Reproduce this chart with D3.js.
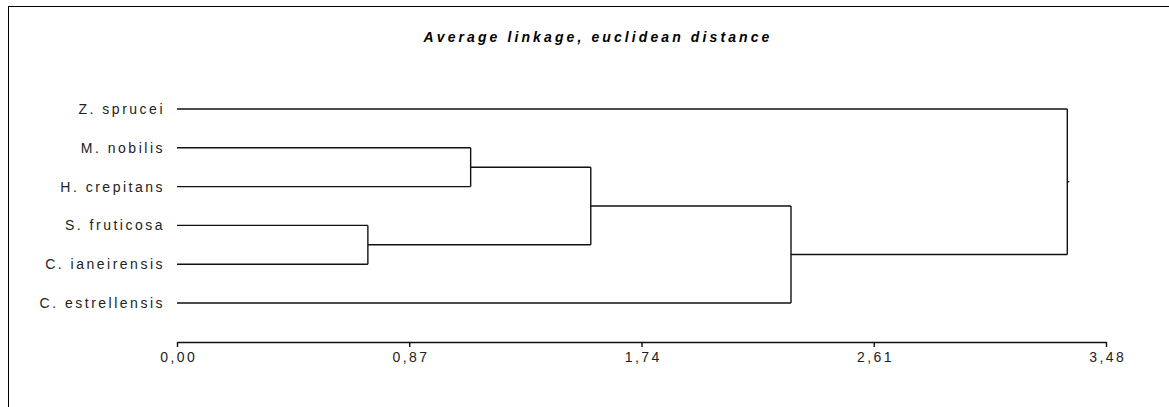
<!DOCTYPE html>
<html>
<head>
<meta charset="utf-8">
<script src="https://cdn.jsdelivr.net/npm/d3@7"></script>
<style>
  body { margin: 0; background: #fff; }
  svg { display: block; font-family: "Liberation Sans", Arial, sans-serif; }
</style>
</head>
<body>
<div id="chart"></div>
<script>
const title = "Average linkage, euclidean distance";

// leaves in display order (top to bottom)
const leaves = ["Z. sprucei", "M. nobilis", "H. crepitans", "S. fruticosa", "C. ianeirensis", "C. estrellensis"];

// linkage, scipy style: index < 6 is a leaf, 6+ are clusters made in order
const mergePairs = [[3, 4], [1, 2], [7, 6], [8, 5], [0, 9]];
const mergeHeights = [0.715, 1.10, 1.55, 2.30, 3.335];

const tickValues = [0, 0.87, 1.74, 2.61, 3.48];
const tickLabels = ["0,00", "0,87", "1,74", "2,61", "3,48"];

const width = 1169, height = 407;

const svg = d3.select("#chart").append("svg")
    .attr("width", width)
    .attr("height", height);

// frame (only top and left edges show)
svg.append("rect")
    .attr("x", 8.5).attr("y", 6.5)
    .attr("width", width + 20).attr("height", height + 20)
    .attr("fill", "none")
    .attr("stroke", "#000")
    .attr("stroke-width", 1);

svg.append("text")
    .attr("x", 598).attr("y", 42)
    .attr("text-anchor", "middle")
    .attr("font-size", 14)
    .attr("font-weight", "bold")
    .attr("font-style", "italic")
    .attr("letter-spacing", 3.1)
    .text(title);

const x = d3.scaleLinear().domain([0, 3.48]).range([177, 1106]);
const y = d3.scalePoint().domain(leaves).range([109, 303]);

// build tree
const nodes = leaves.map(name => ({ name: name, h: 0 }));
mergePairs.forEach((p, i) => {
  nodes.push({ name: "c" + (i + 6), h: mergeHeights[i], children: [nodes[p[0]], nodes[p[1]]] });
});
const root = d3.hierarchy(nodes[nodes.length - 1]);

root.eachAfter(n => {
  n.py = n.children ? d3.mean(n.children, c => c.py) : y(n.data.name);
});

const g = svg.append("g")
    .attr("fill", "none")
    .attr("stroke", "#111")
    .attr("stroke-width", 1.4);

// horizontal branches
g.selectAll("line.h")
  .data(root.descendants().filter(n => n.parent))
  .enter().append("line")
    .attr("class", "h")
    .attr("x1", d => x(d.data.h))
    .attr("x2", d => x(d.parent.data.h))
    .attr("y1", d => d.py)
    .attr("y2", d => d.py);

// vertical joins
g.selectAll("line.v")
  .data(root.descendants().filter(n => n.children))
  .enter().append("line")
    .attr("class", "v")
    .attr("x1", d => x(d.data.h))
    .attr("x2", d => x(d.data.h))
    .attr("y1", d => d3.min(d.children, c => c.py))
    .attr("y2", d => d3.max(d.children, c => c.py));

// root stub
g.append("line")
    .attr("x1", x(root.data.h)).attr("x2", x(root.data.h) + 2)
    .attr("y1", root.py).attr("y2", root.py);

// leaf labels
svg.selectAll("text.leaf")
  .data(leaves)
  .enter().append("text")
    .attr("class", "leaf")
    .attr("x", 165)
    .attr("y", d => y(d) + 5)
    .attr("text-anchor", "end")
    .attr("font-size", 14)
    .attr("letter-spacing", 2.5)
    .attr("fill", "#222")
    .text(d => d);

// axis
const axis = svg.append("g")
    .attr("transform", "translate(0,342)")
    .call(d3.axisBottom(x)
      .tickValues(tickValues)
      .tickFormat((d, i) => tickLabels[i])
      .tickSize(5)
      .tickSizeOuter(0));

axis.select(".domain").attr("stroke", "#111").attr("stroke-width", 1.4);
axis.selectAll(".tick line").attr("stroke", "#111").attr("stroke-width", 1.4);
axis.selectAll(".tick text")
    .attr("y", 10)
    .attr("dx", 1.2)
    .attr("font-size", 14)
    .attr("letter-spacing", 2.4)
    .attr("fill", "#222")
    .attr("font-family", "\"Liberation Sans\", Arial, sans-serif");
</script>
</body>
</html>
